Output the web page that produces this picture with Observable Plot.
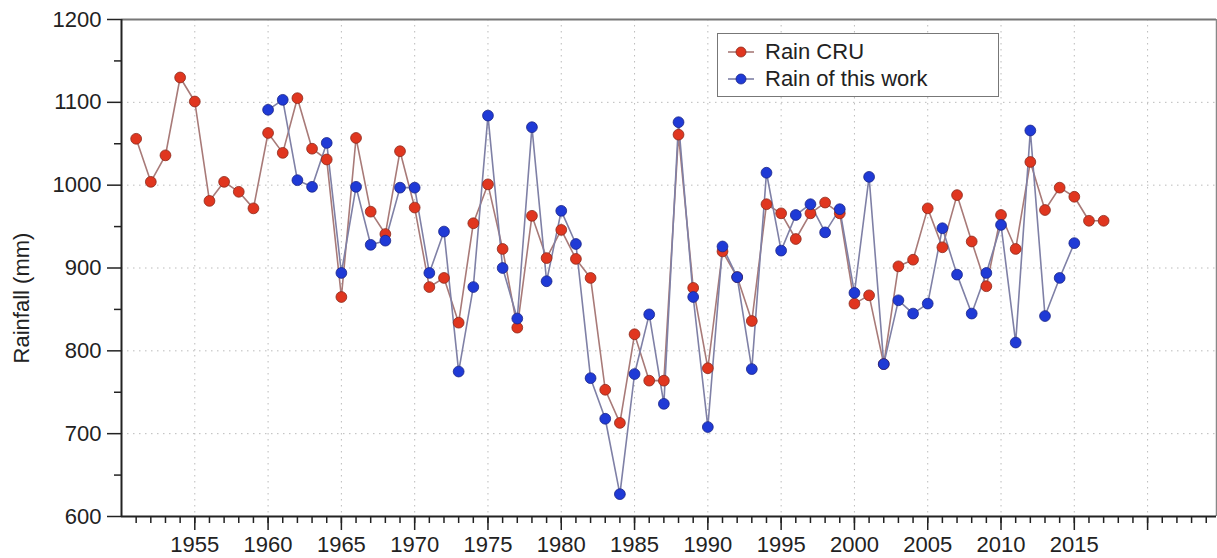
<!DOCTYPE html>
<html>
<head>
<meta charset="utf-8">
<script src="https://cdn.jsdelivr.net/npm/d3@7"></script>
<script src="https://cdn.jsdelivr.net/npm/@observablehq/plot@0.6"></script>
<style>
  html, body { margin: 0; padding: 0; background: #fff; }
  #wrap { position: relative; width: 1217px; height: 558px; font-family: "Liberation Sans", Arial, Helvetica, sans-serif; }
  #ylab { position: absolute; left: 22px; top: 298px; transform: translate(-50%, -50%) rotate(-90deg); font-size: 22px; color: #222; white-space: nowrap; }
  #legend { position: absolute; left: 717px; top: 33px; width: 280px; height: 62px; border: 1.5px solid #777; background: #fff; font-size: 22px; color: #222; }
  .item { position: absolute; left: 10px; height: 22px; display: flex; align-items: center; }
  .item svg { margin-right: 11px; }
</style>
</head>
<body>
<div id="wrap"></div>
<script>
const cruYears = d3.range(1951, 2018);
const cruValues = [
  1056,1004,1036,1130,1101,981,1004,992,972,1063,
  1039,1105,1044,1031,865,1057,968,941,1041,973,
  877,888,834,954,1001,923,828,963,912,946,
  911,888,753,713,820,764,764,1061,876,779,
  920,889,836,977,966,935,966,979,966,857,
  867,784,902,910,972,925,988,932,878,964,
  923,1028,970,997,986,957,957
];
const workYears = d3.range(1960, 2016);
const workValues = [
  1091,1103,1006,998,1051,894,998,928,933,997,
  997,894,944,775,877,1084,900,839,1070,884,
  969,929,767,718,627,772,844,736,1076,865,
  708,926,889,778,1015,921,964,977,943,971,
  870,1010,784,861,845,857,948,892,845,894,
  952,810,1066,842,888,930
];
const seriesNames = ["Rain CRU", "Rain of this work"];
const yLabel = "Rainfall (mm)";
const yMajor = [600, 700, 800, 900, 1000, 1100, 1200];
const yMinor = [650, 750, 850, 950, 1050, 1150];
const xMajor = d3.range(1955, 2025, 5);
const xMinor = d3.range(1951, 2025);
const xLabelMax = 2015;

const cru = cruYears.map((y, i) => ({year: y, value: cruValues[i]}));
const work = workYears.map((y, i) => ({year: y, value: workValues[i]}));

const redDot = "#e0361f", redEdge = "#8c2a1c", redLine = "#a87a78";
const blueDot = "#1f3ad6", blueEdge = "#1a2488", blueLine = "#7f80a6";
const xMax = 2024.7;
const font = '"Liberation Sans", Arial, Helvetica, sans-serif';

const chart = Plot.plot({
  width: 1217,
  height: 558,
  marginLeft: 121,
  marginRight: 1,
  marginTop: 19,
  marginBottom: 42,
  style: {fontFamily: font, fontSize: "22px", color: "#222", background: "#fff"},
  x: {domain: [1950, xMax], label: null},
  y: {domain: [600, 1200], label: null},
  marks: [
    Plot.gridY(yMajor.slice(1, -1), {stroke: "#bbb", strokeOpacity: 1, strokeDasharray: "1.5,4.5"}),
    Plot.gridX(xMajor, {stroke: "#bbb", strokeOpacity: 1, strokeDasharray: "1.5,4.5"}),
    Plot.ruleY([1200], {stroke: "#777", strokeWidth: 2}),
    Plot.ruleX([xMax], {stroke: "#888", strokeWidth: 1.5}),
    Plot.axisY(yMinor, {tickSize: 7, text: null, stroke: "#222", strokeWidth: 1.5, label: null}),
    Plot.axisY(yMajor, {tickSize: 14, tickPadding: 6, tickFormat: "d", stroke: "#222", strokeWidth: 1.5, fill: "#222", fontSize: 22, label: null}),
    Plot.axisX(xMinor, {tickSize: 7, text: null, stroke: "#222", strokeWidth: 1.5, label: null}),
    Plot.axisX(xMajor, {tickSize: 14, tickPadding: 6, tickFormat: d => d <= xLabelMax ? String(d) : "", stroke: "#222", strokeWidth: 1.5, fill: "#222", fontSize: 22, label: null}),
    Plot.ruleX([1950], {stroke: "#222", strokeWidth: 2}),
    Plot.ruleY([600], {stroke: "#222", strokeWidth: 2}),
    Plot.line(cru, {x: "year", y: "value", stroke: redLine, strokeWidth: 1.6}),
    Plot.line(work, {x: "year", y: "value", stroke: blueLine, strokeWidth: 1.6}),
    Plot.dot(cru, {x: "year", y: "value", r: 5.4, fill: redDot, stroke: redEdge, strokeWidth: 0.8}),
    Plot.dot(work, {x: "year", y: "value", r: 5.4, fill: blueDot, stroke: blueEdge, strokeWidth: 0.8})
  ]
});

const wrap = document.getElementById("wrap");
wrap.appendChild(chart);

const yl = document.createElement("div");
yl.id = "ylab";
yl.textContent = yLabel;
wrap.appendChild(yl);

const legend = document.createElement("div");
legend.id = "legend";
const cols = [[redDot, redEdge, redLine], [blueDot, blueEdge, blueLine]];
seriesNames.forEach((name, i) => {
  const it = document.createElement("div");
  it.className = "item";
  it.style.top = (i === 0 ? 7 : 34) + "px";
  it.innerHTML = `<svg width="26" height="14"><line x1="0" y1="7" x2="26" y2="7" stroke="${cols[i][2]}" stroke-width="1.6"/><circle cx="13" cy="7" r="5" fill="${cols[i][0]}" stroke="${cols[i][1]}" stroke-width="0.8"/></svg><span>${name}</span>`;
  legend.appendChild(it);
});
wrap.appendChild(legend);
</script>
</body>
</html>
